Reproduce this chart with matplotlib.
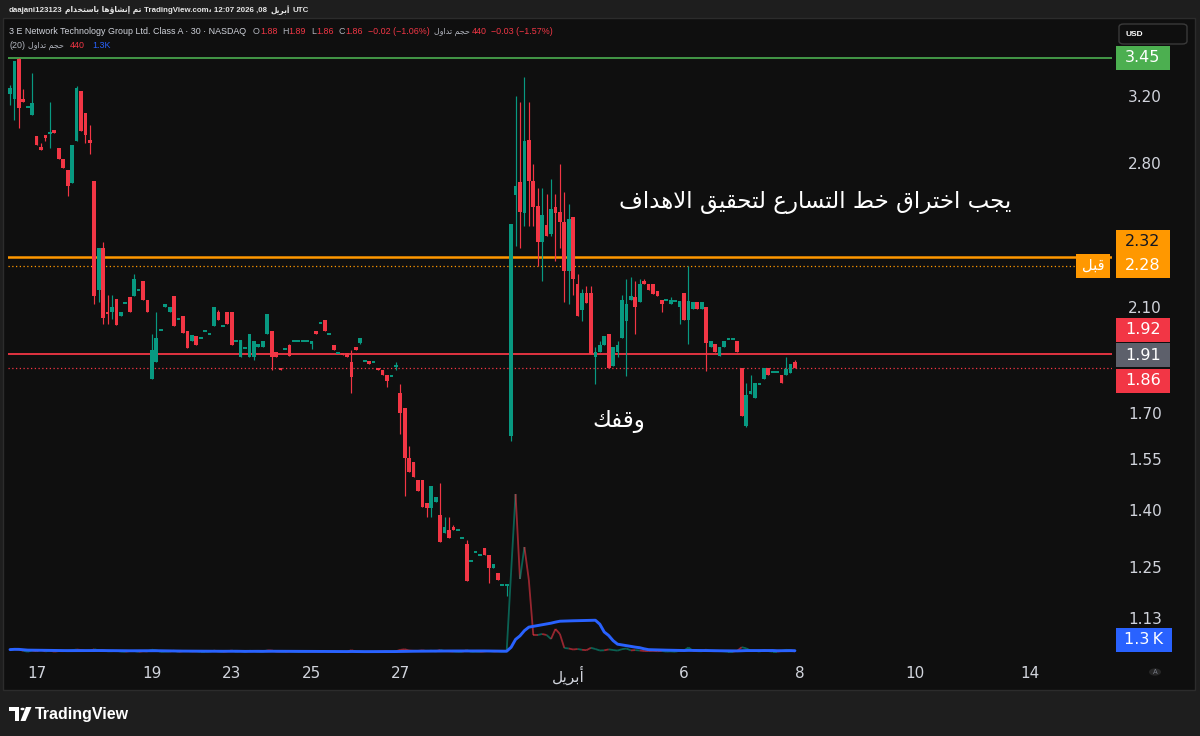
import numpy as np
import pandas as pd
import matplotlib
matplotlib.use("Agg")
import matplotlib.pyplot as plt
from matplotlib.collections import LineCollection
from matplotlib.patches import Rectangle, FancyBboxPatch, Circle, Polygon
from matplotlib.ticker import NullLocator, FixedLocator

# ---------------- data ----------------
opens = [3.21, 3.18, 3.44, 3.18, 3.13, 3.08, 2.95, 2.89, 2.95, 2.97,
         2.98, 2.88, 2.82, 2.76, 2.69, 2.92, 3.23, 3.09, 2.93, 2.70,
         2.17, 2.36, 2.08, 2.08, 2.135, 2.06, 2.115, 2.14, 2.146, 2.17,
         2.21, 2.13, 1.82, 1.88, 2.005, 2.10, 2.08, 2.146, 2.05, 2.06,
         2.00, 1.96, 1.98, 1.975, 2.00, 1.99, 2.02, 2.08, 2.02, 2.08,
         2.08, 1.96, 1.90, 1.935, 1.90, 1.90, 1.94, 1.94, 1.99, 2.00,
         1.92, 1.86, 1.93, 1.945, 1.96, 1.96, 1.96, 1.96, 1.955, 2.00,
         2.035, 2.045, 1.99, 1.945, 1.917, 1.917, 1.917, 1.88, 1.94, 1.955,
         1.886, 1.886, 1.88, 1.86, 1.85, 1.835, 1.83, 1.865, 1.77, 1.715,
         1.555, 1.54, 1.487, 1.487, 1.42, 1.405, 1.424, 1.388, 1.337, 1.345,
         1.355, 1.345, 1.325, 1.308, 1.266, 1.289, 1.28, 1.298, 1.28, 1.247,
         1.236, 1.207, 1.207, 1.622, 2.625, 2.693, 2.53, 2.93, 2.70, 2.57,
         2.39, 2.47, 2.43, 2.56, 2.535, 2.485, 2.256, 2.51, 2.20, 2.085,
         2.157, 2.157, 1.90, 1.92, 1.945, 1.99, 1.865, 1.92, 1.975, 2.04,
         2.13, 2.14, 2.12, 2.21, 2.20, 2.196, 2.168, 2.128, 2.128, 2.11,
         2.125, 2.10, 2.157, 2.045, 2.09, 2.12, 2.09, 2.10, 1.94, 1.95,
         1.905, 1.94, 1.97, 1.97, 1.96, 1.86, 1.655, 1.765, 1.75, 1.80,
         1.82, 1.86, 1.845, 1.845, 1.835, 1.835, 1.84, 1.88]
highs = [3.27, 3.43, 3.45, 3.24, 3.13, 3.35, 2.95, 2.91, 2.95, 3.16,
         2.98, 2.88, 2.82, 2.76, 2.90, 3.26, 3.23, 3.09, 3.02, 2.70,
         2.36, 2.39, 2.15, 2.15, 2.135, 2.08, 2.12, 2.14, 2.24, 2.17,
         2.21, 2.13, 1.99, 2.08, 2.005, 2.11, 2.10, 2.146, 2.05, 2.06,
         2.00, 1.985, 1.98, 1.975, 2.00, 1.99, 2.10, 2.085, 2.02, 2.08,
         2.08, 1.96, 1.965, 1.935, 1.99, 1.96, 1.95, 1.96, 2.07, 2.00,
         1.92, 1.86, 1.93, 1.95, 1.96, 1.96, 1.96, 1.96, 1.96, 2.00,
         2.035, 2.045, 1.99, 1.945, 1.917, 1.917, 1.917, 1.927, 1.94, 1.975,
         1.886, 1.886, 1.88, 1.86, 1.85, 1.835, 1.83, 1.88, 1.80, 1.715,
         1.59, 1.54, 1.487, 1.487, 1.42, 1.468, 1.437, 1.478, 1.38, 1.38,
         1.36, 1.345, 1.325, 1.32, 1.266, 1.289, 1.28, 1.298, 1.28, 1.257,
         1.236, 1.207, 1.207, 2.476, 3.20, 3.16, 3.32, 3.16, 2.79, 2.66,
         2.66, 2.63, 2.71, 2.63, 2.79, 2.64, 2.58, 2.51, 2.24, 2.175,
         2.19, 2.19, 1.94, 1.96, 1.98, 1.99, 1.94, 1.96, 2.15, 2.22,
         2.23, 2.21, 2.22, 2.22, 2.20, 2.196, 2.168, 2.128, 2.128, 2.14,
         2.125, 2.125, 2.157, 2.28, 2.12, 2.12, 2.12, 2.10, 1.96, 1.95,
         1.94, 1.96, 1.97, 1.97, 1.96, 1.86, 1.805, 1.835, 1.805, 1.80,
         1.86, 1.86, 1.845, 1.845, 1.835, 1.90, 1.875, 1.89]
lows = [3.14, 3.05, 3.00, 3.16, 3.13, 3.08, 2.90, 2.87, 2.92, 2.88,
        2.97, 2.82, 2.77, 2.62, 2.69, 2.92, 2.98, 2.91, 2.85, 2.11,
        2.12, 2.03, 2.03, 2.05, 2.025, 2.06, 2.115, 2.08, 2.146, 2.17,
        2.13, 2.08, 1.82, 1.88, 2.005, 2.10, 2.08, 2.02, 2.05, 1.995,
        1.935, 1.96, 1.945, 1.975, 2.00, 1.99, 2.02, 2.045, 2.02, 2.03,
        1.945, 1.96, 1.90, 1.935, 1.90, 1.89, 1.94, 1.94, 1.99, 1.85,
        1.90, 1.85, 1.93, 1.905, 1.96, 1.96, 1.96, 1.96, 1.93, 1.99,
        2.035, 2.00, 1.99, 1.925, 1.917, 1.907, 1.90, 1.77, 1.925, 1.95,
        1.886, 1.875, 1.88, 1.85, 1.835, 1.79, 1.83, 1.85, 1.63, 1.44,
        1.51, 1.495, 1.455, 1.41, 1.38, 1.38, 1.424, 1.315, 1.337, 1.325,
        1.345, 1.345, 1.325, 1.217, 1.266, 1.289, 1.28, 1.28, 1.21, 1.247,
        1.218, 1.207, 1.18, 1.606, 2.37, 2.36, 2.465, 2.465, 2.465, 2.28,
        2.21, 2.42, 2.42, 2.30, 2.36, 2.12, 2.11, 2.15, 2.06, 2.04,
        2.115, 1.91, 1.80, 1.92, 1.945, 1.86, 1.865, 1.90, 1.975, 1.83,
        2.13, 1.99, 2.12, 2.20, 2.17, 2.155, 2.146, 2.08, 2.128, 2.11,
        2.125, 2.03, 2.045, 1.95, 2.09, 2.09, 2.09, 1.847, 1.94, 1.92,
        1.905, 1.94, 1.97, 1.97, 1.92, 1.688, 1.652, 1.765, 1.75, 1.80,
        1.82, 1.835, 1.845, 1.845, 1.805, 1.835, 1.84, 1.86]
closes = [3.25, 3.43, 3.12, 3.16, 3.13, 3.15, 2.90, 2.87, 2.94, 2.975,
          2.97, 2.82, 2.77, 2.67, 2.90, 3.25, 2.98, 2.96, 2.91, 2.146,
          2.36, 2.055, 2.07, 2.10, 2.025, 2.08, 2.12, 2.08, 2.22, 2.17,
          2.13, 2.08, 1.925, 1.975, 2.005, 2.11, 2.10, 2.02, 2.05, 1.995,
          1.935, 1.985, 1.945, 1.975, 2.00, 1.99, 2.10, 2.045, 2.02, 2.03,
          1.945, 1.96, 1.965, 1.935, 1.99, 1.96, 1.95, 1.96, 2.07, 1.90,
          1.90, 1.85, 1.93, 1.905, 1.96, 1.96, 1.96, 1.96, 1.96, 1.99,
          2.035, 2.00, 1.99, 1.925, 1.917, 1.907, 1.90, 1.825, 1.925, 1.975,
          1.886, 1.875, 1.88, 1.85, 1.835, 1.81, 1.83, 1.866, 1.70, 1.555,
          1.51, 1.495, 1.455, 1.41, 1.405, 1.468, 1.437, 1.315, 1.355, 1.325,
          1.345, 1.345, 1.325, 1.217, 1.266, 1.289, 1.28, 1.28, 1.247, 1.257,
          1.218, 1.207, 1.207, 2.476, 2.674, 2.535, 2.92, 2.70, 2.56, 2.39,
          2.52, 2.42, 2.55, 2.53, 2.485, 2.256, 2.50, 2.22, 2.06, 2.157,
          2.115, 1.91, 1.92, 1.945, 1.98, 1.86, 1.94, 1.945, 2.13, 2.11,
          2.146, 2.10, 2.196, 2.20, 2.17, 2.155, 2.146, 2.11, 2.128, 2.13,
          2.125, 2.125, 2.045, 2.125, 2.12, 2.09, 2.12, 1.955, 1.96, 1.92,
          1.94, 1.96, 1.97, 1.97, 1.92, 1.688, 1.76, 1.777, 1.805, 1.80,
          1.86, 1.835, 1.845, 1.845, 1.805, 1.855, 1.875, 1.86]
volumes = [2400, 2900, 2600, 1200, 300, 1500, 800, 2200, 600, 1300,
           400, 900, 800, 1400, 1700, 2500, 2000, 1100, 900, 2800,
           1600, 1900, 700, 800, 1200, 500, 300, 900, 1000, 200,
           800, 600, 2300, 1700, 200, 400, 500, 1300, 200, 900,
           1000, 600, 700, 200, 200, 300, 1400, 600, 200, 700,
           1500, 200, 900, 200, 1200, 1000, 300, 400, 1600, 1500,
           500, 300, 200, 600, 200, 100, 100, 100, 300, 400,
           200, 800, 200, 500, 100, 300, 300, 1800, 400, 600,
           200, 300, 200, 400, 500, 900, 200, 700, 2100, 2700,
           1500, 1200, 1100, 1600, 900, 1300, 600, 2000, 900, 800,
           500, 200, 300, 1800, 200, 300, 200, 600, 1200, 500,
           700, 300, 800, 80000, 158000, 73000, 105000, 72000, 17000, 17000,
           18000, 17000, 13000, 23000, 18000, 4000, 3500, 2500, 3000, 2200,
           1800, 4200, 3000, 1500, 1700, 2600, 2000, 1400, 2800, 3500,
           1600, 1900, 1500, 1000, 900, 1100, 800, 1000, 400, 600,
           300, 1200, 1600, 4500, 1200, 800, 700, 2400, 900, 800,
           1000, 700, 300, 300, 1200, 4800, 3700, 1400, 1300, 400,
           2000, 900, 300, 300, 1000, 2200, 1900, 440]

x_tick_pos = [6, 32, 50, 68, 88, 126, 152, 178, 204, 230]
x_tick_lab = ["17", "19", "23", "25", "27", "أبريل", "6", "8", "10", "14"]
y_ticks = [3.20, 2.80, 2.10, 1.70, 1.55, 1.40, 1.25, 1.13]

level_green = 3.45
level_orange = 2.32
level_orange_dot = 2.28
level_red = 1.91
level_last = 1.86
label_prev = 1.92
ma_label = "1.3\u2009K"

note_main = "يجب اختراق خط التسارع لتحقيق الاهداف"
note_stop = "وقفك"
note_before = "قبل"

# ---------------- Arabic shaping (presentation forms, visual order) ----------------
AR_FORMS = {
    'ا': ('\uFE8D', '\uFE8E', None, None), 'أ': ('\uFE83', '\uFE84', None, None),
    'إ': ('\uFE87', '\uFE88', None, None), 'ؤ': ('\uFE85', '\uFE86', None, None),
    'ب': ('\uFE8F', '\uFE90', '\uFE91', '\uFE92'), 'ت': ('\uFE95', '\uFE96', '\uFE97', '\uFE98'),
    'ج': ('\uFE9D', '\uFE9E', '\uFE9F', '\uFEA0'), 'ح': ('\uFEA1', '\uFEA2', '\uFEA3', '\uFEA4'),
    'خ': ('\uFEA5', '\uFEA6', '\uFEA7', '\uFEA8'), 'د': ('\uFEA9', '\uFEAA', None, None),
    'ر': ('\uFEAD', '\uFEAE', None, None), 'س': ('\uFEB1', '\uFEB2', '\uFEB3', '\uFEB4'),
    'ش': ('\uFEB5', '\uFEB6', '\uFEB7', '\uFEB8'), 'ط': ('\uFEC1', '\uFEC2', '\uFEC3', '\uFEC4'),
    'ع': ('\uFEC9', '\uFECA', '\uFECB', '\uFECC'), 'ف': ('\uFED1', '\uFED2', '\uFED3', '\uFED4'),
    'ق': ('\uFED5', '\uFED6', '\uFED7', '\uFED8'), 'ك': ('\uFED9', '\uFEDA', '\uFEDB', '\uFEDC'),
    'ل': ('\uFEDD', '\uFEDE', '\uFEDF', '\uFEE0'), 'م': ('\uFEE1', '\uFEE2', '\uFEE3', '\uFEE4'),
    'ن': ('\uFEE5', '\uFEE6', '\uFEE7', '\uFEE8'), 'ه': ('\uFEE9', '\uFEEA', '\uFEEB', '\uFEEC'),
    'و': ('\uFEED', '\uFEEE', None, None), 'ي': ('\uFEF1', '\uFEF2', '\uFEF3', '\uFEF4'),
}
LAM_ALEF = {'ا': ('\uFEFB', '\uFEFC'), 'أ': ('\uFEF7', '\uFEF8'), 'إ': ('\uFEF9', '\uFEFA')}


def shape_word(s):
    units, i = [], 0
    while i < len(s):
        if s[i] == 'ل' and i + 1 < len(s) and s[i + 1] in LAM_ALEF:
            units.append(('LA', s[i + 1])); i += 2
        else:
            units.append(('C', s[i])); i += 1

    def fwd(u):
        if u[0] == 'LA':
            return False
        f = AR_FORMS.get(u[1])
        return f is not None and f[2] is not None

    def isar(u):
        return u[0] == 'LA' or u[1] in AR_FORMS

    out = []
    for k, u in enumerate(units):
        prev = units[k - 1] if k > 0 else None
        nxt = units[k + 1] if k + 1 < len(units) else None
        jp = prev is not None and fwd(prev)
        jn = nxt is not None and isar(nxt) and fwd(u)
        if u[0] == 'LA':
            out.append(LAM_ALEF[u[1]][1 if jp else 0]); continue
        f = AR_FORMS.get(u[1])
        if f is None:
            out.append(u[1]); continue
        if jp and jn:
            out.append(f[3])
        elif jp:
            out.append(f[1])
        elif jn:
            out.append(f[2])
        else:
            out.append(f[0])
    return ''.join(out)


def ar(text):
    return ' '.join(shape_word(w) for w in text.split(' '))[::-1]


def has_ar(t):
    return any('\u0600' <= ch <= '\u06ff' for ch in t)


# ---------------- figure ----------------
W, H = 1200, 736
GREEN, RED, BLUE, ORANGE = '#089981', '#f23645', '#2962ff', '#ff9800'
TXT = '#d1d4dc'
GRY = '#b2b5be'
UI = ['Liberation Sans', 'DejaVu Sans']
ARF = ['DejaVu Sans']

fig = plt.figure(figsize=(12, 7.36), dpi=100)
fig.patch.set_facecolor('#1e1e1e')


def fx(px):
    return px / W


def fy(py):
    return 1 - py / H


fig.add_artist(Rectangle((fx(3), fy(690)), fx(1195) - fx(3), fy(18) - fy(690),
                         transform=fig.transFigure, facecolor='#0f0f0f',
                         edgecolor='#2c2c2c', lw=1, zorder=0))

ax = fig.add_axes([fx(8), fy(656), fx(1112) - fx(8), fy(20) - fy(656)])
ax2 = ax.twinx()
ax.set_facecolor('#0f0f0f')
ax.set_yscale('log')
ax.set_xlim(-0.45, 248.5)
ax.set_ylim(1.047, 3.72)
for sp in ax.spines.values():
    sp.set_visible(False)

o = np.array(opens); h = np.array(highs); l = np.array(lows); c = np.array(closes)
idx = np.arange(len(o))
up = c >= o
col = np.where(up, GREEN, RED)

ax.vlines(idx, l, h, colors=col, lw=0.85, zorder=3)
lo_b = np.minimum(o, c); hi_b = np.maximum(o, c)
ax.bar(idx, hi_b - lo_b, bottom=lo_b, width=0.84, color=col, lw=0, zorder=4)
flat = (hi_b / lo_b - 1) < 0.004
ax.hlines(o[flat], idx[flat] - 0.42, idx[flat] + 0.42, colors=col[flat], lw=1.4, zorder=4)

# horizontal levels
ax.axhline(level_green, color='#4caf50', lw=1.2, zorder=2)
ax.axhline(level_orange, color=ORANGE, lw=1.8, zorder=2)
ax.axhline(level_orange_dot, xmax=(1076 - 8) / 1104, color=ORANGE, lw=0.9, ls=(0, (1, 2)), zorder=2)
ax.axhline(level_red, color=RED, lw=1.3, zorder=2)
ax.axhline(level_last, color=RED, lw=0.9, ls=(0, (1, 2)), zorder=2)

# ticks
ax.yaxis.tick_right()
ax.yaxis.set_minor_locator(NullLocator())
ax.yaxis.set_major_locator(FixedLocator(y_ticks))
ax.set_yticklabels([f"{v:.2f}" for v in y_ticks])
ax.tick_params(axis='y', which='both', length=0, pad=11.5, labelcolor=TXT, labelsize=11,
               labelright=True, labelleft=False, left=False, right=False)
ax.set_xticks(x_tick_pos)
ax.set_xticklabels([ar(t) if has_ar(t) else t for t in x_tick_lab])
ax.tick_params(axis='x', length=0, pad=7, labelcolor=TXT, labelsize=11)
for t in ax.get_xticklabels() + ax.get_yticklabels():
    t.set_family(['DejaVu Sans'])

# volume overlay
ax2.set_ylim(-4000, 632000)
ax2.axis('off')
vol = np.array(volumes, dtype=float)
pts = np.column_stack([idx, vol])
segs = np.stack([pts[:-1], pts[1:]], axis=1)
lc = LineCollection(segs, colors=col[1:], linewidths=1.3, alpha=0.6, zorder=2)
ax2.add_collection(lc)
ma = pd.Series(vol).rolling(20, min_periods=1).mean().values
ax2.plot(idx, ma, color=BLUE, lw=2.1, zorder=3, solid_capstyle='round')

# annotations
ax.text(181.5, 2.585, ar(note_main), color='white', fontsize=16.5, family=ARF,
        ha='center', va='center', zorder=6)
ax.text(137.3, 1.671, ar(note_stop), color='white', fontsize=16.5, family=ARF,
        ha='center', va='center', zorder=6)

fig.canvas.draw()


def ypx(axis, val):
    return H - axis.transData.transform((0, val))[1]


def box(yc, text, fc, tc, x0=1116, x1=1170, hgt=24, size=11.5, fam=('DejaVu Sans',)):
    fig.add_artist(Rectangle((fx(x0), fy(yc + hgt / 2)), fx(x1) - fx(x0), hgt / H,
                             transform=fig.transFigure, facecolor=fc, edgecolor='none', zorder=5))
    fig.text(fx((x0 + x1) / 2), fy(yc), text, color=tc, fontsize=size, family=list(fam),
             ha='center', va='center', zorder=6)


box(ypx(ax, level_green), f"{level_green:.2f}", '#4caf50', 'white')
box(ypx(ax, level_orange) - 15, f"{level_orange:.2f}", ORANGE, '#131722')
box(ypx(ax, level_orange_dot), f"{level_orange_dot:.2f}", ORANGE, 'white')
box(ypx(ax, level_orange_dot), ar(note_before), ORANGE, 'white', x0=1076, x1=1110, size=10.5)
box(ypx(ax, label_prev) - 22, f"{label_prev:.2f}", RED, 'white')
box(ypx(ax, level_red) + 1, f"{level_red:.2f}", '#5d606b', 'white')
box(ypx(ax, level_last) + 13, f"{level_last:.2f}", RED, 'white')
box(ypx(ax2, ma[-1]) - 11, ma_label, BLUE, 'white', x1=1172)

# USD button
fig.add_artist(FancyBboxPatch((fx(1119), fy(44)), fx(1187) - fx(1119), 20 / H,
                              boxstyle='round,pad=0,rounding_size=0.004',
                              transform=fig.transFigure, facecolor='#0f0f0f',
                              edgecolor='#3a3a3a', lw=1, zorder=5))
fig.text(fx(1126), fy(34), "USD", color='white', fontsize=6, family=UI, weight='bold',
         ha='left', va='center', zorder=6)

# "A" button
fig.add_artist(Circle((fx(1155), fy(672)), 6 / W, transform=fig.transFigure,
                      facecolor='#262626', edgecolor='none', zorder=5))
fig.text(fx(1155), fy(672), "A", color='#787b86', fontsize=5, family=UI,
         ha='center', va='center', zorder=6)

# ---------------- header / legend texts ----------------
renderer = fig.canvas.get_renderer()


def runs(x, y, items, size, weight='normal'):
    """items: gap numbers or (text, colour[, family, size_factor])"""
    for it in items:
        if isinstance(it, (int, float)):
            x += it
            continue
        s, cc = it[0], it[1]
        fam = it[2] if len(it) > 2 else UI
        k = it[3] if len(it) > 3 else 1.0
        t = fig.text(fx(x), fy(y), s, color=cc, fontsize=size * k, weight=weight,
                     family=fam, ha='left', va='center', zorder=7)
        x += t.get_window_extent(renderer=renderer).width
    return x


HC = '#e6e6e6'
runs(8.5, 10, [("daajani123123", HC), 3, (ar("تم إنشاؤها باستخدام"), HC, ARF, 0.95), 3,
               ("TradingView.com، 12:07 2026 ,08", HC), 3, (ar("أبريل"), HC, ARF, 0.95), 3,
               ("UTC", HC)], 5.7, weight='bold')

LS = 6.4
runs(9, 31, [("3 E Network Technology Group Ltd. Class A · 30 · NASDAQ", TXT)], LS)
runs(253, 31, [("O", GRY), ("1.88", RED), 5, ("H", GRY), ("1.89", RED), 5,
               ("L", GRY), ("1.86", RED), 5, ("C", GRY), ("1.86", RED), 5,
               ("−0.02 (−1.06%)", RED), 5, (ar("حجم تداول"), GRY, ARF, 0.9), 1,
               ("440", RED), 5, ("−0.03 (−1.57%)", RED)], LS)
runs(9, 45, [("(20)", GRY), 3, (ar("حجم تداول"), GRY, ARF, 0.9), 6, ("440", RED), 7,
             ("1.3K", BLUE)], LS)

# ---------------- footer logo ----------------
fig.add_artist(Polygon([(fx(9), fy(707)), (fx(19), fy(707)), (fx(19), fy(721)), (fx(14.5), fy(721)),
                        (fx(14.5), fy(711)), (fx(9), fy(711))], closed=True,
                       transform=fig.transFigure, facecolor='white', edgecolor='none'))
fig.add_artist(Circle((fx(22.5), fy(709)), 2.1 / W, transform=fig.transFigure,
                      facecolor='white', edgecolor='none'))
fig.add_artist(Polygon([(fx(26), fy(707)), (fx(31.5), fy(707)), (fx(25.5), fy(721)), (fx(20.5), fy(721))],
                       closed=True, transform=fig.transFigure, facecolor='white', edgecolor='none'))
fig.text(fx(35), fy(714), "TradingView", color='white', fontsize=11.5, weight='bold',
         family=UI, ha='left', va='center')

fig.savefig("out.png", dpi=100, facecolor=fig.get_facecolor())
